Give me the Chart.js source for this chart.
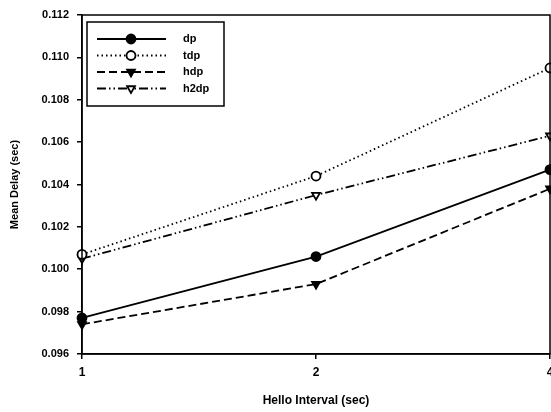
<!DOCTYPE html>
<html>
<head>
<meta charset="utf-8">
<script src="https://cdn.jsdelivr.net/npm/chart.js@4/dist/chart.umd.min.js"></script>
<style>
  html, body { margin: 0; padding: 0; background: #fff; }
  #wrap { width: 551px; height: 412px; }
</style>
</head>
<body>
<div id="wrap"><canvas id="chart" width="551" height="412"></canvas></div>
<script>
(function () {
  "use strict";

  var helloIntervals = ["1", "2", "4"];
  var dpDelay = [0.0977, 0.1006, 0.1047];
  var tdpDelay = [0.1007, 0.1044, 0.1095];
  var hdpDelay = [0.0974, 0.0993, 0.1038];
  var h2dpDelay = [0.1005, 0.1035, 0.1063];

  var FONT = "'Liberation Sans', Arial, sans-serif";

  function series(label, data, dash, style, filled, rot) {
    return {
      label: label,
      data: data,
      borderColor: "#000",
      borderWidth: 1.8,
      borderDash: dash,
      pointStyle: style,
      rotation: rot || 0,
      pointRadius: 4.5,
      pointBorderWidth: 1.8,
      pointBackgroundColor: filled ? "#000" : "#fff",
      pointBorderColor: "#000",
      tension: 0
    };
  }

  // frame around the plot area + in-plot legend box
  var framePlugin = {
    id: "frame",
    afterDraw: function (chart) {
      var ctx = chart.ctx;
      var a = chart.chartArea;
      ctx.save();
      ctx.strokeStyle = "#000";
      ctx.lineWidth = 1.5;
      ctx.strokeRect(a.left, a.top, a.right - a.left, a.bottom - a.top);

      var bx = a.left + 5, by = a.top + 7, bw = 137, bh = 84;
      ctx.lineWidth = 1.5;
      ctx.strokeRect(bx, by, bw, bh);

      chart.data.datasets.forEach(function (ds, i) {
        var y = by + 17 + i * 16.5;
        ctx.beginPath();
        ctx.setLineDash(ds.borderDash);
        ctx.lineWidth = ds.borderWidth;
        ctx.moveTo(bx + 10, y);
        ctx.lineTo(bx + 79, y);
        ctx.stroke();
        ctx.setLineDash([]);
        ctx.fillStyle = ds.pointBackgroundColor;
        ctx.lineWidth = ds.pointBorderWidth;
        Chart.helpers.drawPoint(ctx, {
          pointStyle: ds.pointStyle,
          rotation: ds.rotation,
          radius: ds.pointRadius,
          borderWidth: ds.pointBorderWidth
        }, bx + 44, y);
        ctx.fillStyle = "#000";
        ctx.font = "bold 11px " + FONT;
        ctx.textBaseline = "middle";
        ctx.fillText(ds.label, bx + 96, y);
      });
      ctx.restore();
    }
  };

  new Chart(document.getElementById("chart"), {
    type: "line",
    data: {
      labels: helloIntervals,
      datasets: [
        series("dp", dpDelay, [], "circle", true),
        series("tdp", tdpDelay, [1.5, 3], "circle", false),
        series("hdp", hdpDelay, [8, 4], "triangle", true, 180),
        series("h2dp", h2dpDelay, [9, 3, 1.5, 3, 1.5, 3], "triangle", false, 180)
      ]
    },
    options: {
      responsive: false,
      animation: false,
      layout: { autoPadding: false, padding: { top: 15, right: 1, bottom: 0, left: 0 } },
      plugins: {
        legend: { display: false },
        tooltip: { enabled: false }
      },
      scales: {
        x: {
          type: "category",
          offset: false,
          grid: { drawOnChartArea: false, tickLength: 5, color: "#000", lineWidth: 1.5 },
          border: { color: "#000", width: 1.5 },
          ticks: { color: "#000", font: { family: FONT, size: 12, weight: "bold" }, padding: 6, maxRotation: 0 },
          title: { display: true, text: "Hello Interval (sec)", color: "#000", font: { family: FONT, size: 12, weight: "bold" }, padding: { top: 10 } },
          afterFit: function (s) { s.paddingLeft = 0; s.paddingRight = 0; s.height = 58; }
        },
        y: {
          min: 0.096,
          max: 0.112,
          grid: { drawOnChartArea: false, tickLength: 5, color: "#000", lineWidth: 1.5 },
          border: { color: "#000", width: 1.5 },
          ticks: {
            stepSize: 0.002,
            color: "#000",
            padding: 8,
            font: { family: FONT, size: 11, weight: "bold" },
            callback: function (v) { return v.toFixed(3); }
          },
          title: { display: true, text: "Mean Delay (sec)", color: "#000", font: { family: FONT, size: 11, weight: "bold" }, padding: { top: 8, bottom: 0 } },
          afterFit: function (s) { s.paddingTop = 0; s.paddingBottom = 0; s.width = 82; }
        }
      }
    },
    plugins: [framePlugin]
  });
})();
</script>
</body>
</html>
